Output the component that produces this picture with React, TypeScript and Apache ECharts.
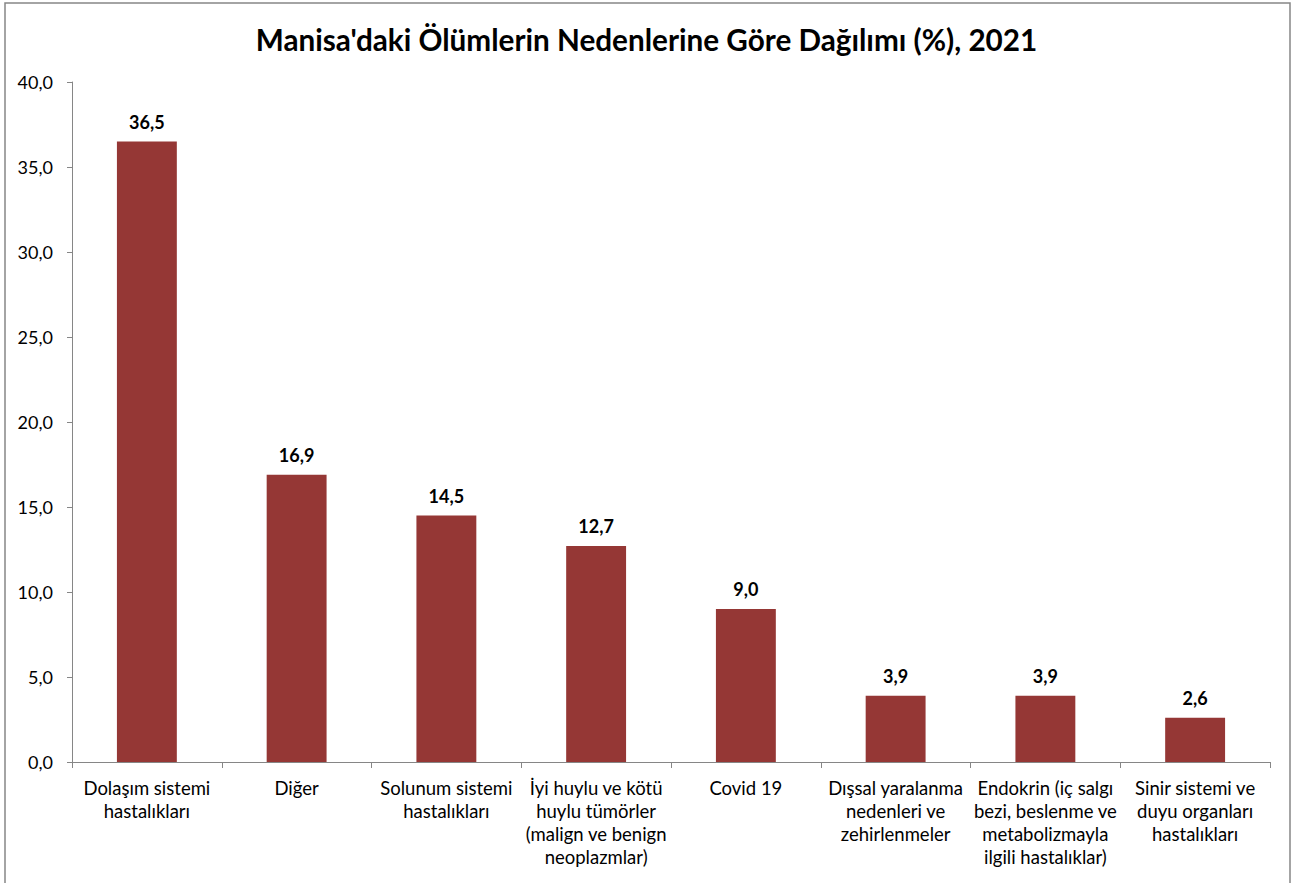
import React, { useEffect, useRef } from "react";
import * as echarts from "echarts";

const title = "Manisa'daki Ölümlerin Nedenlerine Göre Dağılımı (%), 2021";
const categories = [
  "Dolaşım sistemi\nhastalıkları",
  "Diğer",
  "Solunum sistemi\nhastalıkları",
  "İyi huylu ve kötü\nhuylu tümörler\n(malign ve benign\nneoplazmlar)",
  "Covid 19",
  "Dışsal yaralanma\nnedenleri ve\nzehirlenmeler",
  "Endokrin (iç salgı\nbezi, beslenme ve\nmetabolizmayla\nilgili hastalıklar)",
  "Sinir sistemi ve\nduyu organları\nhastalıkları",
];
const values = [36.5, 16.9, 14.5, 12.7, 9.0, 3.9, 3.9, 2.6];
const yMin = 0;
const yMax = 40;
const yInterval = 5;

const fmt = (v: number) => v.toFixed(1).replace(".", ",");
const FONT = "Lato";

export default function App() {
  const ref = useRef<HTMLDivElement>(null);
  useEffect(() => {
    if (!ref.current) return;
    const chart = echarts.init(ref.current, undefined, { renderer: "svg" });
    chart.setOption({
      animation: false,
      backgroundColor: "#ffffff",
      textStyle: { fontFamily: FONT },
      title: {
        text: title,
        left: "center",
        top: 19,
        textStyle: { fontFamily: FONT, fontSize: 29.7, fontWeight: "bold", color: "#000" },
      },
      graphic: [
        {
          type: "rect",
          shape: { x: 5, y: 3, width: 1285, height: 920 },
          style: { fill: "none", stroke: "#868686", lineWidth: 1.5 },
          silent: true,
        },
      ],
      grid: { left: 72, right: 23, top: 82, bottom: 121, containLabel: false },
      xAxis: {
        type: "category",
        data: categories,
        axisLine: { lineStyle: { color: "#868686", width: 1 } },
        axisTick: { show: true, length: 6, lineStyle: { color: "#868686" } },
        axisLabel: {
          interval: 0,
          margin: 14,
          fontFamily: FONT,
          fontSize: 18.5,
          lineHeight: 23,
          color: "#000",
          align: "center",
        },
      },
      yAxis: {
        type: "value",
        min: yMin,
        max: yMax,
        interval: yInterval,
        splitLine: { show: false },
        axisLine: { show: true, lineStyle: { color: "#868686", width: 1 } },
        axisTick: { show: true, length: 5, lineStyle: { color: "#868686" } },
        axisLabel: {
          margin: 19,
          fontFamily: FONT,
          fontSize: 18,
          color: "#000",
          formatter: (v: number) => fmt(v),
        },
      },
      series: [
        {
          type: "bar",
          data: values,
          barWidth: "40%",
          itemStyle: { color: "#953735" },
          label: {
            show: true,
            position: "top",
            distance: 11,
            fontFamily: FONT,
            fontSize: 18,
            fontWeight: "bold",
            color: "#000",
            formatter: (p: any) => fmt(p.value),
          },
        },
      ],
    });
    return () => chart.dispose();
  }, []);
  return (
    <div
      ref={ref}
      style={{ position: "fixed", left: 0, top: 0, width: 1293, height: 883 }}
    />
  );
}
